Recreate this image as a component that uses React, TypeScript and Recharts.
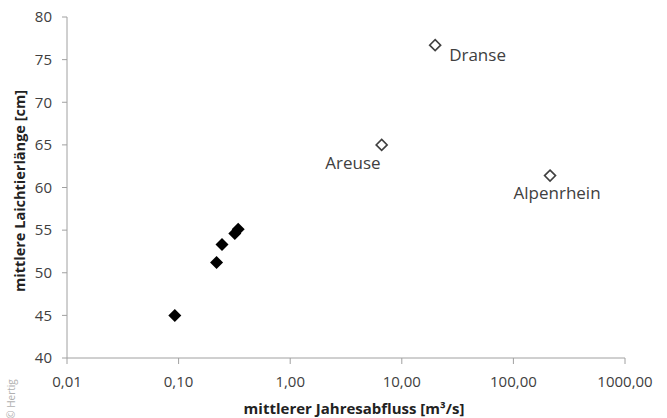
import { ScatterChart, Scatter, XAxis, YAxis } from 'recharts'

// flow [m³/s] vs mean spawner length [cm]
const smallRiversFlow = [0.0925, 0.219, 0.245, 0.319, 0.342]
const smallRiversLength = [45.0, 51.2, 53.3, 54.6, 55.1]

const bigRiverNames = ['Dranse', 'Areuse', 'Alpenrhein']
const bigRiversFlow = [19.9, 6.6, 213]
const bigRiversLength = [76.7, 65.0, 61.4]

const xTicks = [0.01, 0.1, 1, 10, 100, 1000]
const yTicks = [40, 45, 50, 55, 60, 65, 70, 75, 80]

const smallData = smallRiversFlow.map((x, i) => ({ x, y: smallRiversLength[i] }))
const bigData = bigRiversFlow.map((x, i) => ({ x, y: bigRiversLength[i], name: bigRiverNames[i] }))

const FONT = '"Open Sans", sans-serif'
const AXIS = '#a0a0a0'
const TEXT = '#404040'

// where each river name sits relative to its marker
const labelPos: Record<string, { dx: number; dy: number; anchor: 'start' | 'middle' | 'end' }> = {
  Dranse: { dx: 14, dy: 15.5, anchor: 'start' },
  Areuse: { dx: -1, dy: 24, anchor: 'end' },
  Alpenrhein: { dx: 7, dy: 23.5, anchor: 'middle' },
}

const fmt = (v: number) => v.toFixed(2).replace('.', ',')

function FilledDiamond(props: any) {
  const { cx, cy } = props
  const r = 6.5
  return <path d={`M${cx},${cy - r}L${cx + r},${cy}L${cx},${cy + r}L${cx - r},${cy}Z`} fill="#000" />
}

function OpenDiamond(props: any) {
  const { cx, cy, payload } = props
  const r = 5.5
  const p = labelPos[payload.name]
  return (
    <g>
      <path
        d={`M${cx},${cy - r}L${cx + r},${cy}L${cx},${cy + r}L${cx - r},${cy}Z`}
        fill="#fff"
        stroke="#404040"
        strokeWidth={1.6}
      />
      <text
        x={cx + p.dx}
        y={cy + p.dy}
        textAnchor={p.anchor}
        fontSize={17}
        fontFamily={FONT}
        fill={TEXT}
      >
        {payload.name}
      </text>
    </g>
  )
}

const XTitle = () => (
  <text x={354} y={414} textAnchor="middle" fontSize={15} fontWeight={700} fontFamily={FONT} fill="#222">
    mittlerer Jahresabfluss [m³/s]
  </text>
)

const YTitle = () => (
  <text
    x={0}
    y={0}
    transform="translate(25,191) rotate(-90)"
    textAnchor="middle"
    fontSize={14.5}
    fontWeight={700}
    fontFamily={FONT}
    fill="#222"
  >
    mittlere Laichtierlänge [cm]
  </text>
)

export default function App() {
  return (
    <div style={{ position: 'absolute', left: 0, top: 0, width: 667, height: 418, background: '#fff' }}>
      <ScatterChart width={667} height={418} margin={{ top: 17, right: 42, bottom: 0, left: 0 }}>
        <XAxis
          type="number"
          dataKey="x"
          scale="log"
          domain={[0.01, 1000]}
          ticks={xTicks}
          tickFormatter={fmt}
          height={60}
          stroke={AXIS}
          tickSize={6}
          tickMargin={12}
          tick={{ fill: TEXT, fontSize: 15, fontFamily: FONT }}
          allowDataOverflow
          label={{ content: XTitle }}
        />
        <YAxis
          type="number"
          dataKey="y"
          domain={[40, 80]}
          ticks={yTicks}
          width={67}
          stroke={AXIS}
          tickSize={5}
          tickMargin={10}
          tick={{ fill: TEXT, fontSize: 15, fontFamily: FONT }}
          allowDataOverflow
          label={{ content: YTitle }}
        />
        <Scatter data={smallData} shape={<FilledDiamond />} isAnimationActive={false} />
        <Scatter data={bigData} shape={<OpenDiamond />} isAnimationActive={false} />
      </ScatterChart>
      <div
        style={{
          position: 'absolute',
          left: -14,
          top: 392,
          width: 50,
          transform: 'rotate(-90deg)',
          fontFamily: FONT,
          fontSize: 10,
          color: '#b0b0b0',
          whiteSpace: 'nowrap',
          textAlign: 'center',
        }}
      >
        © Hertig
      </div>
    </div>
  )
}
